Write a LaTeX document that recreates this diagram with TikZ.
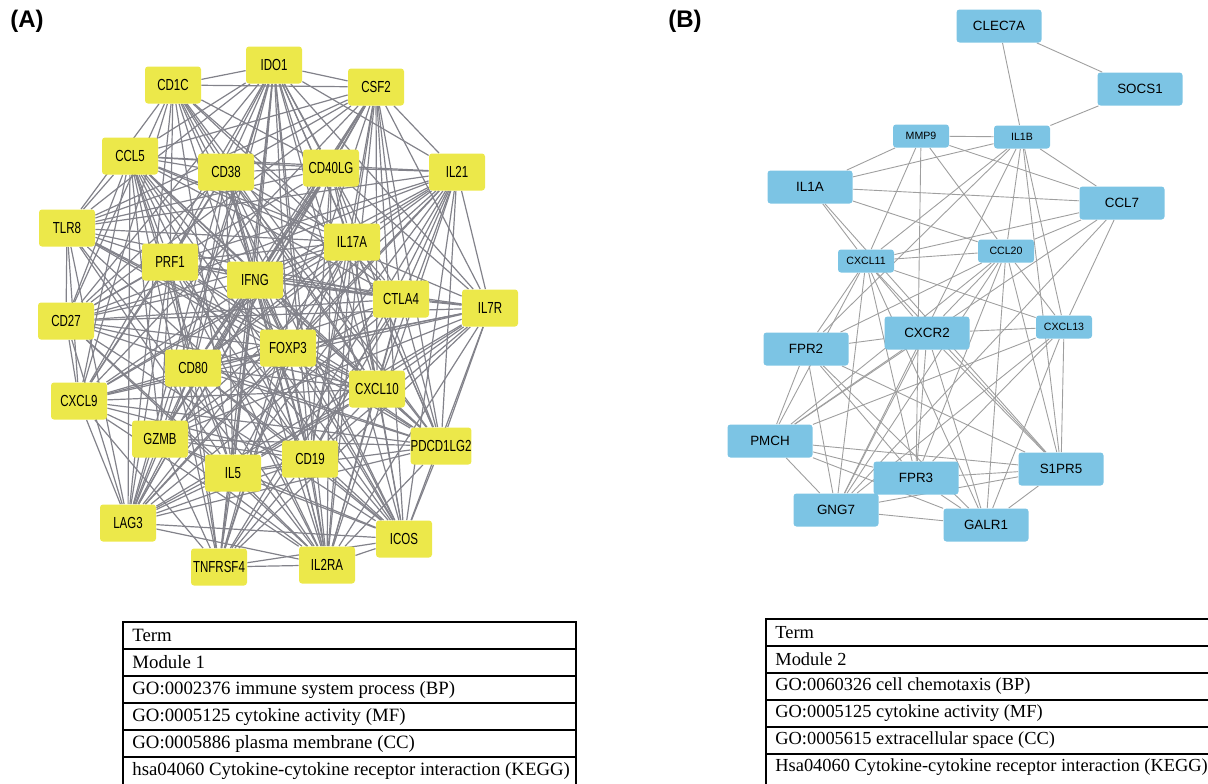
\documentclass[tikz,border=0pt]{standalone}
\usepackage{fontspec}
\setmainfont{Liberation Serif}
\setsansfont{Liberation Sans}
\newfontfamily\narrowsans[FakeStretch=0.72]{Liberation Sans}
\usetikzlibrary{backgrounds}

\definecolor{geneyellow}{RGB}{236,232,74}
\definecolor{geneblue}{RGB}{124,196,228}
\definecolor{edgegray}{RGB}{130,130,138}

\tikzset{
  geneA/.style={fill=geneyellow, rounded corners=1.5pt, minimum width=28pt, minimum height=18.5pt,
    inner sep=0pt, font=\narrowsans\fontsize{8}{9}\selectfont},
  geneB/.style={fill=geneblue, rounded corners=1.5pt, minimum width=42.5pt, minimum height=16.5pt,
    inner sep=0pt, font=\sffamily\fontsize{6.7}{8}\selectfont},
  geneBs/.style={geneB, minimum width=28pt, minimum height=11.5pt, font=\sffamily\fontsize{5.3}{6}\selectfont},
  linkA/.style={draw=edgegray, line width=0.6pt},
  linkB/.style={draw=gray!75, line width=0.45pt},
  cellA/.style={anchor=west, inner sep=0pt, font=\fontsize{9.4}{10}\selectfont},
  cellB/.style={anchor=west, inner sep=0pt, font=\fontsize{9.2}{10}\selectfont},
  panel/.style={font=\sffamily\bfseries\fontsize{12}{13}\selectfont},
}

\def\genesA{IDO1,CD1C,CSF2,CCL5,CD38,CD40LG,IL21,TLR8,PRF1,IFNG,IL17A,CTLA4,IL7R,CD27,FOXP3,CD80,CXCL10,CXCL9,GZMB,PDCD1LG2,IL5,CD19,LAG3,ICOS,TNFRSF4,IL2RA}

\begin{document}
\begin{tikzpicture}[x=0.5pt, y=-0.5pt]
        \useasboundingbox (0,0) rectangle (1208,783);
        \clip (0,0) rectangle (1208,783);

        \node[panel] (labA) at (27,21) {(A)};
        \node[panel] (labB) at (685,21) {(B)};

        % module 1
        \node[geneA] (IDO1) at (274,65) {IDO1};
        \node[geneA] (CD1C) at (173,85) {CD1C};
        \node[geneA] (CSF2) at (376,87) {CSF2};
        \node[geneA] (CCL5) at (130,156) {CCL5};
        \node[geneA] (CD38) at (226,172) {CD38};
        \node[geneA] (CD40LG) at (331,168) {CD40LG};
        \node[geneA] (IL21) at (457,172) {IL21};
        \node[geneA] (TLR8) at (67,228) {TLR8};
        \node[geneA] (PRF1) at (170,262) {PRF1};
        \node[geneA] (IFNG) at (255,280) {IFNG};
        \node[geneA] (IL17A) at (352,242) {IL17A};
        \node[geneA] (CTLA4) at (401,299) {CTLA4};
        \node[geneA] (IL7R) at (490,308) {IL7R};
        \node[geneA] (CD27) at (66,321) {CD27};
        \node[geneA] (FOXP3) at (288,348) {FOXP3};
        \node[geneA] (CD80) at (193,368) {CD80};
        \node[geneA] (CXCL10) at (377,389) {CXCL10};
        \node[geneA] (CXCL9) at (79,401) {CXCL9};
        \node[geneA] (GZMB) at (160,439) {GZMB};
        \node[geneA] (PDCD1LG2) at (441,446) {PDCD1LG2};
        \node[geneA] (IL5) at (233,473) {IL5};
        \node[geneA] (CD19) at (310,459) {CD19};
        \node[geneA] (LAG3) at (128,523) {LAG3};
        \node[geneA] (ICOS) at (404,539) {ICOS};
        \node[geneA] (TNFRSF4) at (219,567) {TNFRSF4};
        \node[geneA] (IL2RA) at (327,565) {IL2RA};

        \begin{pgfonlayer}{background}
        \foreach \a [count=\i] in \genesA {
          \foreach \b [count=\j] in \genesA {
            \pgfmathtruncatemacro\keep{mod(\i*\j+\i+2*\j,6)}
            \ifnum\j>\i \ifnum\keep>0 \draw[linkA] (\a) -- (\b); \fi\fi
          }
        }
        \end{pgfonlayer}

        % module 2
        \node[geneB] (CLEC7A) at (999,26) {CLEC7A};
        \node[geneB] (SOCS1) at (1140,89) {SOCS1};
        \node[geneBs] (MMP9) at (921,136) {MMP9};
        \node[geneBs] (IL1B) at (1022,137) {IL1B};
        \node[geneB] (IL1A) at (810,187) {IL1A};
        \node[geneB] (CCL7) at (1122,203) {CCL7};
        \node[geneBs] (CXCL11) at (866,261) {CXCL11};
        \node[geneBs] (CCL20) at (1006,251) {CCL20};
        \node[geneB] (CXCR2) at (927,333) {CXCR2};
        \node[geneBs] (CXCL13) at (1064,327) {CXCL13};
        \node[geneB] (FPR2) at (806,349) {FPR2};
        \node[geneB] (PMCH) at (770,441) {PMCH};
        \node[geneB] (S1PR5) at (1061,469) {S1PR5};
        \node[geneB] (FPR3) at (916,478) {FPR3};
        \node[geneB] (GNG7) at (836,510) {GNG7};
        \node[geneB] (GALR1) at (986,525) {GALR1};

        \begin{pgfonlayer}{background}
        \foreach \a/\b in {CLEC7A/IL1B, CLEC7A/SOCS1, SOCS1/IL1B, MMP9/IL1B, MMP9/IL1A, MMP9/CCL7,
            MMP9/CXCL11, MMP9/CCL20, MMP9/FPR3, IL1B/IL1A, IL1B/CCL7, IL1B/CXCL11, IL1B/FPR2,
            IL1B/CCL20, IL1B/CXCL13, IL1B/S1PR5, IL1B/GNG7, IL1A/CCL7, IL1A/CCL20, IL1A/CXCL11,
            IL1A/S1PR5, CCL7/CXCL11, CCL7/CCL20, CCL7/CXCL13, CCL7/PMCH, CCL7/GNG7,
            CXCL11/FPR2, CXCL11/PMCH, CXCL11/GNG7, CXCL11/FPR3, CXCL11/CXCR2, CXCL11/GALR1,
            CXCL11/CCL20, CXCL11/CXCL13, CXCL11/S1PR5,
            CCL20/CXCR2, CCL20/FPR2, CCL20/PMCH, CCL20/GNG7, CCL20/FPR3, CCL20/GALR1,
            CCL20/S1PR5, CCL20/CXCL13,
            CXCR2/FPR2, CXCR2/CXCL13, CXCR2/FPR3, CXCR2/GALR1, CXCR2/S1PR5, CXCR2/GNG7, CXCR2/PMCH,
            CXCL13/PMCH, CXCL13/GNG7, CXCL13/FPR3, CXCL13/GALR1, CXCL13/S1PR5,
            FPR2/FPR3, FPR2/GALR1, FPR2/S1PR5, FPR2/GNG7, FPR2/PMCH,
            PMCH/FPR3, PMCH/S1PR5, PMCH/GNG7, PMCH/GALR1,
            FPR3/GALR1, FPR3/S1PR5, FPR3/GNG7, GNG7/GALR1, GNG7/S1PR5, GALR1/S1PR5}
          \draw[linkB] (\a) -- (\b);
        \end{pgfonlayer}

        % enrichment tables
        \draw[line width=0.6pt] (123,790) -- (123,622) -- (576,622) -- (576,790);
        \foreach \y in {649,676,703,730,757}
          \draw[line width=0.6pt] (123,\y) -- (576,\y);
        \foreach \txt [count=\r] in {Term, Module 1, GO:0002376 immune system process (BP),
            GO:0005125 cytokine activity (MF), GO:0005886 plasma membrane (CC),
            hsa04060 Cytokine-cytokine receptor interaction (KEGG)}
          \node[cellA] (tA\r) at (132,608.5+27*\r) {\txt};

        \draw[line width=0.6pt] (766,790) -- (766,619) -- (1215,619);
        \foreach \y in {646,673,700,727,754}
          \draw[line width=0.6pt] (766,\y) -- (1215,\y);
        \foreach \txt [count=\r] in {Term, Module 2, GO:0060326 cell chemotaxis (BP),
            GO:0005125 cytokine activity (MF), GO:0005615 extracellular space (CC),
            Hsa04060 Cytokine-cytokine receptor interaction (KEGG)}
          \node[cellB] (tB\r) at (775,605.5+27*\r) {\txt};
\end{tikzpicture}
\end{document}
